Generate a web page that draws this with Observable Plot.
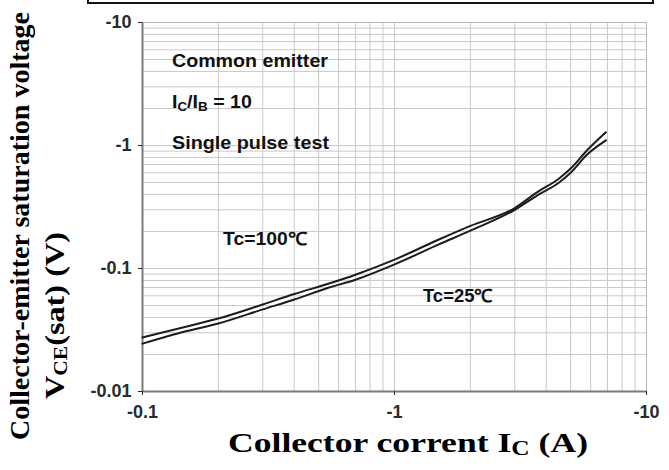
<!DOCTYPE html>
<html><head><meta charset="utf-8">
<script src="https://cdn.jsdelivr.net/npm/d3@7"></script>
<script src="https://cdn.jsdelivr.net/npm/@observablehq/plot@0.6"></script>
<style>body{margin:0;background:#fff} svg{display:block}</style>
</head><body><div id="chart"></div>
<script>
// Collector current (A, magnitude) and V_CE(sat) (V, magnitude)
const currentA  = [0.1, 0.15, 0.2, 0.3, 0.4, 0.55, 0.7, 1, 1.5, 2, 3, 3.7, 4.5, 5, 5.8, 6.9];
const vceTc100  = [0.0275, 0.0338, 0.0392, 0.051, 0.062, 0.0755, 0.089, 0.118, 0.172, 0.222, 0.31, 0.42, 0.54, 0.65, 0.91, 1.28];
const vceTc25   = [0.0245, 0.031, 0.0357, 0.0465, 0.056, 0.070, 0.081, 0.108, 0.157, 0.203, 0.30, 0.395, 0.50, 0.60, 0.84, 1.10];
const xTickValues = [0.1, 1, 10];
const yTickValues = [0.01, 0.1, 1, 10];
const tickPrefix = "-";
const xDomain = [0.1, 10];
const yDomain = [0.01, 10];
const seriesNames = ["Tc=100℃", "Tc=25℃"];

const rows = currentA.flatMap((c, i) => [
  {ic: c, v: vceTc100[i], tc: seriesNames[0]},
  {ic: c, v: vceTc25[i], tc: seriesNames[1]}
]);

function logGrid(lo, hi) {
  const out = [];
  for (let d = lo; d < hi * 1.0001; d *= 10)
    for (let k = 1; k < 10; k++) { const v = d * k; if (v <= hi * 1.0001) out.push(v); }
  return out;
}

const sans = "'Liberation Sans', Arial, sans-serif";
const serif = "'Liberation Serif', 'Times New Roman', serif";

const plot = Plot.plot({
  width: 669, height: 470,
  marginLeft: 142, marginRight: 23, marginTop: 22, marginBottom: 79,
  style: {fontFamily: sans, background: "#fff", overflow: "visible"},
  x: {type: "log", domain: xDomain},
  y: {type: "log", domain: yDomain},
  marks: [
    Plot.ruleX(logGrid(xDomain[0], xDomain[1]), {stroke: "#c9c9c9", strokeWidth: 1}),
    Plot.ruleY(logGrid(yDomain[0], yDomain[1]), {stroke: "#c9c9c9", strokeWidth: 1}),
    Plot.ruleX([xDomain[1]], {stroke: "#b8b8b8"}),
    Plot.ruleY([yDomain[1]], {stroke: "#b8b8b8"}),
    Plot.ruleX([xDomain[0]], {stroke: "#7a7a7a", strokeWidth: 2}),
    Plot.ruleY([yDomain[0]], {stroke: "#7a7a7a", strokeWidth: 2}),
    Plot.axisX(xTickValues, {tickFormat: d => tickPrefix + d, tickSize: 4, tickPadding: 10, color: "#2a2a2a", label: null}),
    Plot.axisY(yTickValues, {tickFormat: d => tickPrefix + d, tickSize: 4, tickPadding: 7, color: "#2a2a2a", label: null}),
    Plot.line(rows, {x: "ic", y: "v", z: "tc", stroke: "#1c1c1c", strokeWidth: 2, curve: "monotone-x"})
  ]
});
document.getElementById("chart").appendChild(plot);

const xs = plot.scale("x"), ys = plot.scale("y");
const svg = d3.select(plot);

// bold, larger tick labels (the only texts drawn so far are the tick labels)
svg.selectAll("text")
  .style("font-size", "18px").style("font-weight", "bold").style("font-family", sans);

// top box (cut-off frame above the chart)
svg.append("rect").attr("x", 88).attr("y", -20).attr("width", 565).attr("height", 23)
  .attr("fill", "none").attr("stroke", "#111").attr("stroke-width", 2);

const g = svg.append("g").attr("font-family", sans).attr("font-weight", "bold")
  .attr("fill", "#111").attr("text-anchor", "start");

function addText(parent, x, y, parts, size, len) {
  const t = parent.append("text").attr("x", x).attr("y", y).attr("font-size", size);
  parts.forEach(p => {
    const s = t.append("tspan").text(p.t);
    if (p.sub) s.attr("font-size", p.sub).attr("dy", p.dy);
    if (p.back) s.attr("dy", p.back);
  });
  if (len) t.attr("textLength", len).attr("lengthAdjust", "spacingAndGlyphs");
  return t;
}

addText(g, xs.apply(0.1315), ys.apply(4.31), [{t: "Common emitter"}], 19, 156);
addText(g, xs.apply(0.1315), ys.apply(2.0), [
  {t: "I"}, {t: "C", sub: 13, dy: 3}, {t: "/I", back: -3}, {t: "B", sub: 13, dy: 3}, {t: " = 10", back: -3}
], 19, 80);
addText(g, xs.apply(0.1315), ys.apply(0.928), [{t: "Single pulse test"}], 19, 157);
addText(g, xs.apply(0.2097), ys.apply(0.154), [{t: seriesNames[0]}], 18, 84);
addText(g, xs.apply(1.303), ys.apply(0.0529), [{t: seriesNames[1]}], 18, 70);

// axis titles (serif bold)
const tg = svg.append("g").attr("font-family", serif).attr("font-weight", "bold")
  .attr("fill", "#000").attr("text-anchor", "start");
tg.append("text").attr("x", 228).attr("y", 452).attr("font-size", 28)
  .attr("textLength", 360).attr("lengthAdjust", "spacingAndGlyphs")
  .call(t => {
    t.append("tspan").text("Collector corrent I");
    t.append("tspan").text("C").attr("font-size", 20).attr("dy", 3);
    t.append("tspan").text(" (A)").attr("dy", -3);
  });

tg.append("text").attr("transform", "translate(29,440) rotate(-90)").attr("font-size", 27)
  .attr("textLength", 428).attr("lengthAdjust", "spacingAndGlyphs")
  .text("Collector-emitter saturation voltage");

tg.append("text").attr("transform", "translate(64,399) rotate(-90)").attr("font-size", 27)
  .attr("textLength", 167).attr("lengthAdjust", "spacingAndGlyphs")
  .call(t => {
    t.append("tspan").text("V");
    t.append("tspan").text("CE").attr("font-size", 18).attr("dy", 3);
    t.append("tspan").text("(sat) (V)").attr("dy", -3);
  });
</script>
</body></html>
